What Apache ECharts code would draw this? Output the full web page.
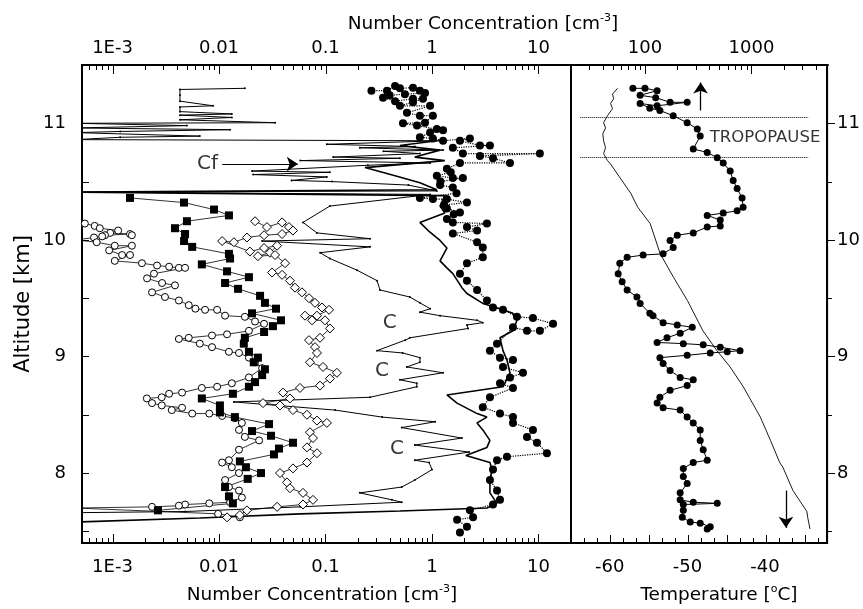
<!DOCTYPE html>
<html>
<head>
<meta charset="utf-8">
<title>Altitude profiles</title>
<script src="https://cdn.jsdelivr.net/npm/echarts@6/dist/echarts.min.js"></script>
<style>
  html, body { margin: 0; padding: 0; background: #fff; }
  #chart { width: 863px; height: 609px; }
  #helper { position: absolute; left: -3000px; top: 0; width: 863px; height: 609px; visibility: hidden; }
</style>
</head>
<body>
<div id="chart"></div>
<div id="helper"></div>
<script>
// axis ranges
const altMin = 7.4, altMax = 11.5
const concMin = 5.17e-4, concMaxLeft = 20.2, concMaxTop = 5230
const tempMin = -65, tempMax = -32

// left panel: [number concentration cm-3, altitude km]
const openCircles = [
  [0.00055,10.14],[0.00068,10.12],[0.00076,10.10],[0.00113,10.08],[0.00095,10.06],[0.00146,10.05],[0.00152,10.04],
  [0.00085,10.04],[0.0008,10.03],[0.00067,10.02],[0.00045,10.0],[0.00071,9.98],[0.00105,9.95],[0.00152,9.95],
  [0.00093,9.91],[0.00123,9.87],[0.00146,9.87],[0.00105,9.82],[0.00189,9.80],[0.00262,9.78],[0.0034,9.77],
  [0.0042,9.76],[0.0048,9.76],[0.00245,9.71],[0.00211,9.67],[0.00292,9.63],[0.00386,9.61],[0.00235,9.55],
  [0.00311,9.51],[0.0042,9.48],[0.0052,9.44],[0.006,9.41],[0.0074,9.40],[0.0096,9.40],[0.0114,9.35],[0.0175,9.34],
  [0.0218,9.30],[0.0265,9.28],[0.0191,9.22],[0.0119,9.19],[0.0086,9.18],[0.0052,9.16],[0.0042,9.15],[0.0066,9.11],
  [0.0086,9.08],[0.0124,9.04],[0.0154,9.03],[0.0191,8.99],[0.0218,8.95],[0.0254,8.90],[0.0191,8.82],[0.0132,8.77],
  [0.0096,8.74],[0.0069,8.73],[0.0045,8.69],[0.0034,8.68],[0.0029,8.65],[0.0021,8.64],[0.00235,8.60],[0.0029,8.58],
  [0.0045,8.56],[0.0036,8.54],[0.0056,8.51],[0.0081,8.51],[0.0107,8.49],[0.0141,8.47],[0.0164,8.43],[0.0154,8.37],
  [0.0175,8.31],[0.0238,8.28],[0.0154,8.20],[0.0124,8.11],[0.0107,8.09],[0.0132,8.05],[0.0154,8.00],[0.0114,7.94],
  [0.0124,7.88],[0.0154,7.85],[0.0164,7.79],[0.0127,7.75],[0.0081,7.74],[0.0048,7.73],[0.0042,7.72],[0.00235,7.71],
  [0.00045,7.70],[0.0098,7.65],[0.0157,7.62]
]

const filledSquares = [
  [0.00146,10.36],[0.00469,10.32],[0.00898,10.26],[0.0124,10.21],[0.0050,10.16],[0.00386,10.10],[0.0048,10.05],
  [0.0047,9.99],[0.0056,9.94],[0.0124,9.88],[0.0127,9.84],[0.0069,9.79],[0.0119,9.73],[0.0191,9.68],[0.0114,9.63],
  [0.0151,9.58],[0.0243,9.52],[0.027,9.46],[0.0343,9.41],[0.0204,9.37],[0.0382,9.31],[0.0321,9.26],[0.0265,9.21],
  [0.0175,9.16],[0.0171,9.11],[0.0191,9.04],[0.0232,8.99],[0.0212,8.95],[0.027,8.89],[0.0254,8.84],[0.0218,8.78],
  [0.0191,8.74],[0.0135,8.68],[0.0069,8.64],[0.0102,8.58],[0.0102,8.52],[0.0141,8.48],[0.0295,8.42],[0.0204,8.36],
  [0.0308,8.32],[0.0495,8.26],[0.0366,8.21],[0.0328,8.16],[0.0157,8.10],[0.0179,8.05],[0.0248,8.00],[0.0186,7.95],
  [0.0114,7.88],[0.0124,7.80],[0.0135,7.74],[0.00267,7.68]
]

const openDiamonds = [
  [0.0218,10.16],[0.0282,10.11],[0.0391,10.15],[0.0454,10.11],[0.0495,10.08],[0.0391,10.05],[0.0265,10.04],
  [0.0183,10.02],[0.0138,9.98],[0.0107,9.99],[0.0195,9.90],[0.0265,9.93],[0.0351,9.95],[0.0301,9.89],[0.0232,9.86],
  [0.0336,9.87],[0.0417,9.80],[0.0315,9.72],[0.0391,9.70],[0.0464,9.65],[0.0517,9.59],[0.0602,9.55],[0.070,9.50],
  [0.0797,9.46],[0.0927,9.42],[0.108,9.40],[0.0832,9.35],[0.0642,9.35],[0.0747,9.31],[0.099,9.31],[0.110,9.24],
  [0.0888,9.16],[0.070,9.14],[0.0797,9.08],[0.0832,9.03],[0.0715,8.95],[0.0948,8.91],[0.128,8.86],[0.110,8.81],
  [0.0888,8.75],[0.0576,8.73],[0.0399,8.69],[0.0464,8.64],[0.0259,8.60],[0.0374,8.58],[0.0495,8.54],[0.067,8.50],
  [0.0832,8.45],[0.103,8.43],[0.0715,8.35],[0.0763,8.30],[0.067,8.22],[0.0832,8.17],[0.067,8.09],[0.0495,8.04],
  [0.0374,8.00],[0.0435,7.92],[0.0464,7.87],[0.0615,7.83],[0.0763,7.77],[0.0615,7.73],[0.0351,7.71],[0.0183,7.68],
  [0.0157,7.64],[0.0119,7.62]
]

// "C" / "Cf" profile (thin line with small markers)
const cProfile = [
  [0.0175,11.30],[0.0043,11.29],[0.0043,11.24],[0.0043,11.19],[0.0088,11.15],[0.0043,11.14],[0.0043,11.10],
  [0.0132,11.08],[0.0043,11.07],[0.0132,11.05],[0.0043,11.03],[0.0336,11.005],[0.00045,11.00],[0.0050,10.98],
  [0.00045,10.96],[0.0127,10.945],[0.00118,10.93],[0.00045,10.92],[0.0066,10.89],[0.00118,10.88],[0.00045,10.86],
  [1.19,10.85],[0.103,10.82],[0.69,10.80],[0.21,10.79],[1.27,10.77],[0.35,10.76],[0.77,10.74],[0.118,10.71],
  [0.5,10.70],[0.058,10.68],[0.96,10.66],[0.25,10.64],[0.0204,10.59],[0.110,10.58],[0.0209,10.56],[0.103,10.54],
  [0.048,10.51],[0.115,10.50],[0.6,10.47],[1.11,10.42],
  [0.00045,10.41],[0.96,10.39],[0.110,10.29],[0.0615,10.15],[0.083,10.06],[0.262,10.01],[0.0254,9.99],[0.262,9.94],
  [0.089,9.89],[0.110,9.84],[0.198,9.74],[0.305,9.65],[0.325,9.57],[0.62,9.51],[0.77,9.46],[0.96,9.41],[0.77,9.38],
  [1.19,9.35],[2.65,9.31],[3.0,9.29],[2.13,9.27],[2.18,9.24],[0.62,9.16],[0.56,9.14],[0.305,9.05],[0.53,9.03],
  [0.77,8.99],[0.77,8.95],[0.58,8.91],[1.27,8.86],[0.50,8.80],[0.72,8.77],[0.72,8.74],[0.262,8.65],[0.0138,8.61],
  [0.123,8.54],[0.34,8.48],[1.07,8.44],[0.52,8.39],[1.91,8.30],[0.69,8.24],[2.23,8.18],[0.69,8.11],[0.94,8.09],
  [1.0,8.03],[0.69,7.94],[0.52,7.88],[0.21,7.83],[0.42,7.77],[0.52,7.75],[0.058,7.71],[0.0048,7.67],[0.00045,7.66]
]

// smooth profile without markers
const solidProfile = [
  [1.11,10.85],[0.50,10.81],[1.19,10.77],[0.69,10.71],[1.32,10.68],[0.235,10.62],[0.45,10.55],[0.77,10.49],
  [1.11,10.43],[0.00045,10.41],[1.32,10.38],[1.19,10.29],[1.32,10.23],[0.77,10.15],[0.92,10.08],[1.19,9.995],
  [1.38,9.93],[1.19,9.82],[1.38,9.76],[1.57,9.71],[1.91,9.59],[2.13,9.54],[3.0,9.455],[4.35,9.41],[5.76,9.37],
  [6.28,9.31],[5.76,9.22],[4.35,9.16],[4.64,9.05],[5.06,8.97],[5.40,8.86],[4.64,8.74],[1.38,8.67],[1.72,8.60],
  [2.65,8.51],[3.28,8.48],[2.65,8.43],[3.0,8.37],[3.5,8.28],[3.28,8.22],[2.08,8.15],[3.5,8.09],[3.66,8.03],
  [3.5,7.94],[3.5,7.83],[4.08,7.74],[3.28,7.70],[0.50,7.675],[0.058,7.65],[0.0066,7.615],[0.00045,7.58]
]

// large filled dots, dotted connection
const bigDots = [
  [0.27,11.28],[0.378,11.28],[0.45,11.32],[0.50,11.30],[0.663,11.305],[0.77,11.28],[0.86,11.26],[0.557,11.25],
  [0.40,11.24],[0.347,11.22],[0.45,11.19],[0.663,11.21],[0.823,11.21],[0.663,11.18],[0.50,11.15],[0.96,11.15],
  [0.582,11.09],[0.77,11.065],[1.02,11.065],[0.86,11.005],[0.534,11.00],[0.723,10.98],[1.11,10.95],[1.27,10.94],
  [0.96,10.92],[0.77,10.88],[1.02,10.87],[1.27,10.85],[2.27,10.87],[1.83,10.85],[2.82,10.81],[3.5,10.81],
  [1.57,10.79],[1.95,10.74],[10.3,10.74],[2.82,10.72],[3.74,10.70],[5.40,10.66],[1.83,10.66],[1.38,10.61],
  [1.5,10.58],[1.11,10.55],[1.57,10.53],[1.95,10.53],[1.2,10.50],[1.19,10.47],[1.57,10.45],[1.7,10.40],
  [0.77,10.36],[1.02,10.35],[1.38,10.35],[2.13,10.32],[1.3,10.30],[1.38,10.27],[1.83,10.235],[1.6,10.22],
  [1.38,10.18],[1.57,10.15],[3.28,10.14],[2.13,10.11],[2.65,10.08],[1.57,10.055],[2.65,9.98],[3.0,9.935],
  [3.0,9.85],[2.13,9.80],[1.83,9.71],[2.13,9.65],[2.65,9.57],[3.28,9.48],[3.74,9.42],[4.64,9.40],[6.28,9.34],
  [8.87,9.33],[13.7,9.28],[10.3,9.22],[7.80,9.22],[5.76,9.25],[4.08,9.11],[3.5,9.05],[4.35,8.99],[5.76,8.97],
  [4.64,8.91],[7.15,8.86],[5.40,8.82],[4.35,8.77],[5.76,8.73],[3.5,8.65],[3.0,8.565],[4.35,8.51],[5.76,8.48],
  [5.76,8.43],[8.87,8.37],[7.80,8.31],[9.68,8.26],[12.0,8.17],[5.06,8.14],[4.08,8.11],[3.74,8.03],[3.5,7.94],
  [4.08,7.85],[4.35,7.77],[3.74,7.73],[2.27,7.68],[2.43,7.62],[1.72,7.60],[2.13,7.54],[1.83,7.49]
]

// right panel: concentration on the top axis [cm-3, km]
const rightDots = [
  [77,11.30],[100,11.30],[130,11.28],[90,11.24],[126,11.22],[172,11.18],[249,11.18],[130,11.15],[90,11.17],
  [111,11.13],[138,11.11],[184,11.065],[249,11.005],[310,10.95],[330,10.89],[284,10.78],[384,10.75],[477,10.705],
  [543,10.66],[631,10.59],[673,10.51],[733,10.44],[816,10.36],[834,10.28],[733,10.25],[543,10.23],[384,10.21],
  [509,10.17],[509,10.12],[384,10.11],[284,10.06],[201,10.04],[172,9.995],[184,9.935],[148,9.88],[96,9.87],
  [68,9.85],[58,9.80],[56,9.71],[61,9.64],[68,9.57],[84,9.51],[90,9.455],[111,9.37],[119,9.35],[148,9.29],
  [201,9.27],[278,9.25],[214,9.20],[161,9.16],[130,9.12],[229,9.11],[352,9.10],[509,9.08],[781,9.05],[592,9.04],
  [410,9.03],[249,9.01],[138,8.99],[148,8.94],[172,8.88],[214,8.82],[284,8.80],[249,8.75],[172,8.71],[138,8.65],
  [130,8.60],[148,8.56],[214,8.54],[249,8.48],[284,8.43],[330,8.37],[330,8.28],[352,8.20],[384,8.11],[284,8.09],
  [229,8.04],[229,7.97],[249,7.91],[214,7.83],[214,7.77],[284,7.75],[477,7.74],[229,7.73],[229,7.68],[224,7.62],
  [266,7.58],[330,7.57],[410,7.54],[384,7.52]
]

// temperature profile [degC, km]
const temperature = [
  [-59.0,11.30],[-59.65,11.25],[-59.5,11.21],[-59.9,11.17],[-59.65,11.125],[-60.3,11.065],[-60.8,11.005],
  [-60.55,10.96],[-60.9,10.91],[-60.8,10.85],[-60.55,10.79],[-60.8,10.74],[-60.3,10.68],[-59.9,10.65],
  [-57.3,10.40],[-56.4,10.28],[-54.8,10.14],[-53.5,9.88],[-51.8,9.68],[-50.0,9.48],[-48.0,9.22],[-46.2,9.05],
  [-44.5,8.91],[-42.8,8.74],[-40.6,8.48],[-39.3,8.28],[-38.1,8.09],[-37.7,8.05],[-36.4,7.85],[-34.6,7.67],
  [-34.5,7.62],[-34.2,7.52]
]

const tropopause = [11.05, 10.71]
const tropopauseSpan = [-63.8, -34.4]

// text annotations [x, altitude, text]
const leftNotes = [[0.0078, 10.65, 'Cf'], [0.40, 9.29, 'C'], [0.34, 8.88, 'C'], [0.47, 8.21, 'C']]
const rightNotes = [[-40.0, 10.88, 'TROPOPAUSE']]

// arrows [[x1, alt1], [x2, alt2]]
const cfArrow = [[0.0107, 10.65], [0.055, 10.65]]
const tempArrows = [[[-48.3, 11.11], [-48.3, 11.35]], [[-37.3, 7.85], [-37.3, 7.53]]]

// tick positions: log decades with 2..9 between, temperature, altitude
const logMajor = [1e-4, 1e-3, 1e-2, 1e-1, 1, 10, 100, 1000]
const logMinor = []
logMajor.forEach(d => { for (let m = 2; m <= 9; m++) logMinor.push(m * d) })
const tempMajor = [-65, -60, -55, -50, -45, -40, -35]
const tempMinor = []
tempMajor.forEach(t => { tempMinor.push(t + 5 / 3, t + 10 / 3) })
const altTicks = [7.5, 8, 8.5, 9, 9.5, 10, 10.5, 11]

const font = 'DejaVu Sans'

const grids = [
  { left: 82, top: 65, width: 489, height: 478, show: true, borderColor: '#000', borderWidth: 2 },
  { left: 571, top: 65, width: 257, height: 478, show: true, borderColor: '#000', borderWidth: 2 },
  { left: 82, top: 65, width: 746, height: 478 }
]

// a bare chart with the same grids and scales, used only to place the axis ticks
const ticks = []
try {
  const helper = echarts.init(document.getElementById('helper'), null, { width: 863, height: 609 })
  helper.setOption({
    animation: false,
    grid: grids,
    xAxis: [
      { gridIndex: 0, type: 'log', min: concMin, max: concMaxLeft },
      { gridIndex: 1, type: 'value', min: tempMin, max: tempMax },
      { gridIndex: 2, type: 'log', min: concMin, max: concMaxTop }
    ],
    yAxis: [
      { gridIndex: 0, type: 'value', min: altMin, max: altMax },
      { gridIndex: 1, type: 'value', min: altMin, max: altMax },
      { gridIndex: 2, type: 'value', min: altMin, max: altMax }
    ],
    series: [
      { type: 'line', xAxisIndex: 0, yAxisIndex: 0, data: [[0.01, 8]] },
      { type: 'line', xAxisIndex: 1, yAxisIndex: 1, data: [[-50, 8]] },
      { type: 'line', xAxisIndex: 2, yAxisIndex: 2, data: [[100, 8]] }
    ]
  })
  const vTick = function (gridIndex, value, alt, dy, len) {
    const p = helper.convertToPixel({ gridIndex: gridIndex }, [value, alt])
    if (!p || isNaN(p[0])) return
    const x = Math.round(p[0]) + 0.5
    ticks.push({ type: 'line', z: 100, silent: true, shape: { x1: x, y1: p[1], x2: x, y2: p[1] + dy * len }, style: { stroke: '#000', lineWidth: 1 } })
  }
  const hTick = function (gridIndex, value, alt, dx, len) {
    const p = helper.convertToPixel({ gridIndex: gridIndex }, [value, alt])
    if (!p || isNaN(p[1])) return
    const y = Math.round(p[1]) + 0.5
    ticks.push({ type: 'line', z: 100, silent: true, shape: { x1: p[0], y1: y, x2: p[0] + dx * len, y2: y }, style: { stroke: '#000', lineWidth: 1 } })
  }
  const inRange = (v, lo, hi) => v > lo * 1.0001 && v < hi * 0.9999
  logMajor.filter(v => inRange(v, concMin, concMaxLeft)).forEach(v => vTick(0, v, altMin, -1, 9))
  logMinor.filter(v => inRange(v, concMin, concMaxLeft)).forEach(v => vTick(0, v, altMin, -1, 5))
  logMajor.filter(v => inRange(v, concMin, concMaxTop)).forEach(v => vTick(2, v, altMax, 1, 9))
  logMinor.filter(v => inRange(v, concMin, concMaxTop)).forEach(v => vTick(2, v, altMax, 1, 5))
  tempMajor.filter(v => v > tempMin && v < tempMax).forEach(v => vTick(1, v, altMin, -1, 8))
  tempMinor.filter(v => v > tempMin && v < tempMax).forEach(v => vTick(1, v, altMin, -1, 5))
  altTicks.forEach(a => hTick(0, concMin, a, 1, 7))
  altTicks.forEach(a => hTick(1, tempMax, a, 1, Number.isInteger(a) ? 7 : 4))
  helper.dispose()
} catch (e) {
  console.error(e)
}

const logLabel = function (v) {
  const l = Math.log10(v)
  const e = Math.round(l)
  if (Math.abs(l - e) > 1e-6 || e < -3) return ''
  if (e === -3) return '1E-3'
  return e < 0 ? Math.pow(10, e).toFixed(-e) : String(Math.pow(10, e))
}

const intLabel = function (v) {
  return Math.abs(v - Math.round(v)) < 1e-6 ? String(Math.round(v)) : ''
}

const tempLabel = function (v) {
  return Math.abs(v % 10) < 1e-6 ? String(v) : ''
}

const lineSeries = function (name, data, opts) {
  return Object.assign({
    name: name,
    type: 'line',
    xAxisIndex: 0,
    yAxisIndex: 0,
    data: data,
    showAllSymbol: true,
    silent: true,
    clip: true,
    smooth: false
  }, opts)
}

const noteLabel = { show: true, position: 'inside', color: '#000', textBorderWidth: 0, fontFamily: font }
const supRich = { sup: { fontSize: 11, verticalAlign: 'top', lineHeight: 12, fontFamily: font } }
const axisLabelStyle = { color: '#000', fontSize: 18, fontFamily: font }

const titles = [
  {
    type: 'text', x: 483, y: 24,
    style: { text: 'Number Concentration [cm{sup|-3}]', fill: '#000', fontSize: 18.5, fontFamily: font, align: 'center', verticalAlign: 'middle', lineHeight: 22, rich: supRich }
  },
  {
    type: 'text', x: 322, y: 595,
    style: { text: 'Number Concentration [cm{sup|-3}]', fill: '#000', fontSize: 18.5, fontFamily: font, align: 'center', verticalAlign: 'middle', lineHeight: 22, rich: supRich }
  },
  {
    type: 'text', x: 719, y: 595,
    style: { text: 'Temperature [{sup|o}C]', fill: '#000', fontSize: 18.5, fontFamily: font, align: 'center', verticalAlign: 'middle', lineHeight: 22, rich: supRich }
  },
  {
    type: 'text', x: 24, y: 304, rotation: Math.PI / 2,
    style: { text: 'Altitude [km]', fill: '#000', fontSize: 21, fontFamily: font, align: 'center', verticalAlign: 'middle' }
  }
]

const chart = echarts.init(document.getElementById('chart'))
try {
  chart.setOption({
    animation: false,
    grid: grids,
    xAxis: [
      {
        gridIndex: 0, type: 'log', min: concMin, max: concMaxLeft, position: 'bottom',
        axisLine: { lineStyle: { color: '#000', width: 2 } },
        axisTick: { show: false },
        axisLabel: Object.assign({ formatter: logLabel, margin: 15 }, axisLabelStyle),
        splitLine: { show: false }
      },
      {
        gridIndex: 1, type: 'value', min: tempMin, max: tempMax, interval: 5, position: 'bottom',
        axisLine: { lineStyle: { color: '#000', width: 2 } },
        axisTick: { show: false },
        axisLabel: Object.assign({ formatter: tempLabel, margin: 15 }, axisLabelStyle),
        splitLine: { show: false }
      },
      {
        gridIndex: 2, type: 'log', min: concMin, max: concMaxTop, position: 'top',
        axisLine: { lineStyle: { color: '#000', width: 2 } },
        axisTick: { show: false },
        axisLabel: Object.assign({ formatter: logLabel, margin: 8 }, axisLabelStyle),
        splitLine: { show: false }
      }
    ],
    yAxis: [
      {
        gridIndex: 0, type: 'value', min: altMin, max: altMax, splitNumber: 8, position: 'left',
        axisLine: { lineStyle: { color: '#000', width: 2 } },
        axisTick: { show: false },
        axisLabel: Object.assign({ formatter: intLabel, margin: 16 }, axisLabelStyle),
        splitLine: { show: false }
      },
      {
        gridIndex: 1, type: 'value', min: altMin, max: altMax, splitNumber: 8, position: 'right',
        axisLine: { lineStyle: { color: '#000', width: 2 } },
        axisTick: { show: false },
        axisLabel: Object.assign({ formatter: intLabel, margin: 10 }, axisLabelStyle),
        splitLine: { show: false }
      },
      { gridIndex: 2, type: 'value', min: altMin, max: altMax, show: false }
    ],
    graphic: titles.concat(ticks),
    series: [
      lineSeries('C', cProfile, {
        symbol: 'circle', symbolSize: 2,
        itemStyle: { color: '#000' },
        lineStyle: { color: '#000', width: 1 },
        markLine: {
          silent: true, symbol: ['none', 'arrow'], symbolSize: 11, label: { show: false },
          lineStyle: { color: '#000', width: 1.2, type: 'solid' },
          data: [[{ coord: cfArrow[0] }, { coord: cfArrow[1] }]]
        }
      }),
      lineSeries('solid', solidProfile, {
        symbol: 'none',
        lineStyle: { color: '#000', width: 1.6 }
      }),
      lineSeries('circles', openCircles, {
        symbol: 'circle', symbolSize: 7,
        itemStyle: { color: '#fff', borderColor: '#000', borderWidth: 1 },
        lineStyle: { color: '#000', width: 0.8 }
      }),
      lineSeries('diamonds', openDiamonds, {
        symbol: 'diamond', symbolSize: 9,
        itemStyle: { color: '#fff', borderColor: '#000', borderWidth: 1 },
        lineStyle: { color: '#000', width: 0.8 }
      }),
      lineSeries('squares', filledSquares, {
        symbol: 'rect', symbolSize: 8,
        itemStyle: { color: '#000' },
        lineStyle: { color: '#000', width: 0.8 }
      }),
      lineSeries('dots', bigDots, {
        symbol: 'circle', symbolSize: 8,
        itemStyle: { color: '#000' },
        lineStyle: { color: '#000', width: 1.2, type: 'dotted' }
      }),
      lineSeries('temperature', temperature, {
        xAxisIndex: 1, yAxisIndex: 1,
        symbol: 'none',
        lineStyle: { color: '#000', width: 0.9 },
        markLine: {
          silent: true, symbol: ['none', 'none'], label: { show: false },
          data: tropopause.map(a => [
            { coord: [tropopauseSpan[0], a], lineStyle: { color: '#000', width: 1, type: 'dotted' } },
            { coord: [tropopauseSpan[1], a] }
          ]).concat(tempArrows.map(ar => [
            { coord: ar[0], lineStyle: { color: '#000', width: 1.3, type: 'solid' } },
            { coord: ar[1], symbol: 'arrow', symbolSize: 11 }
          ]))
        }
      }),
      lineSeries('CN', rightDots, {
        xAxisIndex: 2, yAxisIndex: 2,
        symbol: 'circle', symbolSize: 7,
        itemStyle: { color: '#000' },
        lineStyle: { color: '#000', width: 1 }
      }),
      {
        type: 'scatter', xAxisIndex: 0, yAxisIndex: 0, silent: true,
        symbolSize: 1, itemStyle: { color: 'transparent' },
        data: leftNotes.map(n => ({ value: [n[0], n[1]], label: { formatter: n[2] } })),
        label: Object.assign({ fontSize: 20 }, noteLabel)
      },
      {
        type: 'scatter', xAxisIndex: 1, yAxisIndex: 1, silent: true,
        symbolSize: 1, itemStyle: { color: 'transparent' },
        data: rightNotes.map(n => ({ value: [n[0], n[1]], label: { formatter: n[2] } })),
        label: Object.assign({ fontSize: 16.5 }, noteLabel)
      }
    ]
  })
} catch (e) {
  console.error(e)
}
</script>
</body>
</html>
